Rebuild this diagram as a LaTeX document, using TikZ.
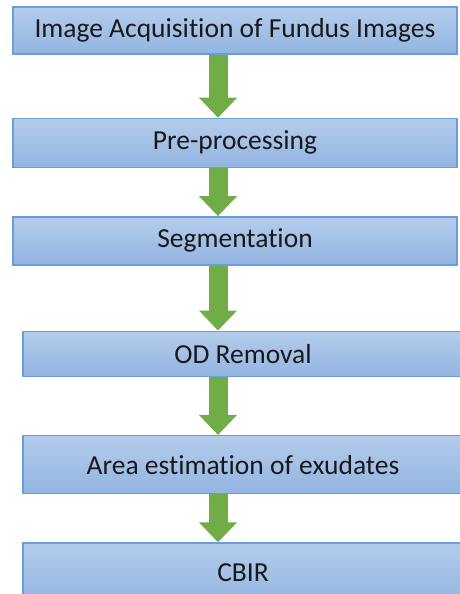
\documentclass[tikz,border=0pt]{standalone}
\usepackage{fontspec}
\setmainfont{Carlito}[Ligatures=NoCommon]
\usepackage{xcolor}
\usepackage{tikz}
\usetikzlibrary{arrows.meta, positioning}

\definecolor{boxtop}{HTML}{B4CCEB}
\definecolor{boxbottom}{HTML}{92B5E1}
\definecolor{boxline}{HTML}{6C9DDB}
\definecolor{arrowgreen}{HTML}{70AD47}

\begin{document}
\begin{tikzpicture}[
    x=1pt, y=-1pt,
    stage/.style={rectangle, draw=boxline, line width=1.4pt, top color=boxtop, bottom color=boxbottom, minimum width=444pt, inner sep=0pt, align=center, font=\fontsize{27.5}{30}\selectfont, text=black!90},
    flow/.style={draw=arrowgreen, line width=19pt, -{Triangle[width=37pt, length=20pt]}}
]
    \useasboundingbox (0,0) rectangle (460,594);
    \clip (0,0) rectangle (460,594);

    % Stages
    \node[stage, minimum height=47pt] (acq) at (235,30.5) {Image Acquisition of Fundus Images};
    \node[stage, minimum height=49pt, below=63pt of acq] (pre) {Pre-processing};
    \node[stage, minimum height=48pt, below=48pt of pre] (seg) {Segmentation};
    \node[stage, minimum height=45pt, minimum width=440pt, below=65pt of seg, xshift=8pt] (odr) {OD Removal};
    \node[stage, minimum height=58pt, minimum width=440pt, below=58pt of odr] (area) {Area estimation of exudates};
    \node[stage, minimum height=60pt, minimum width=440pt, below=48pt of area] (cbir) {CBIR};

    % Arrows
    \coordinate (axis) at (218,0);
    \draw[flow] (acq.south -| axis) -- (pre.north -| axis);
    \draw[flow] (pre.south -| axis) -- (seg.north -| axis);
    \draw[flow] (seg.south -| axis) -- (odr.north -| axis);
    \draw[flow] (odr.south -| axis) -- (area.north -| axis);
    \draw[flow] (area.south -| axis) -- (cbir.north -| axis);
\end{tikzpicture}
\end{document}
